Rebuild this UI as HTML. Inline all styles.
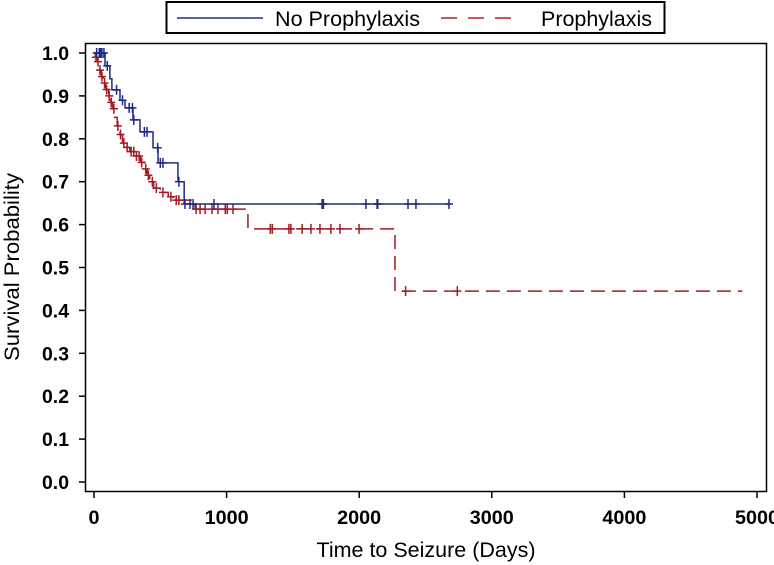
<!DOCTYPE html>
<html><head><meta charset="utf-8"><style>
html,body{margin:0;padding:0;background:#fff;}
svg{display:block;font-family:"Liberation Sans",Arial,sans-serif;}
</style></head><body>
<svg id="chart" width="774" height="565" viewBox="0 0 774 565" xmlns="http://www.w3.org/2000/svg">
<g>
<rect x="166.5" y="2" width="498" height="31" fill="#fff" stroke="#000" stroke-width="2"/>
<line x1="177" y1="18" x2="263" y2="18" stroke="#1f2a85" stroke-width="1.5"/>
<text x="275" y="26" font-size="21" textLength="145" lengthAdjust="spacingAndGlyphs">No Prophylaxis</text>
<line x1="441" y1="18" x2="511" y2="18" stroke="#b02025" stroke-width="1.5" stroke-dasharray="16 11"/>
<text x="541" y="26" font-size="21" textLength="111" lengthAdjust="spacingAndGlyphs">Prophylaxis</text>
</g>
<rect x="85.5" y="43.5" width="681" height="448" fill="none" stroke="#000" stroke-width="1.5"/>
<g id="yaxis"></g>
<g id="xaxis"></g>
<text transform="translate(19,267) rotate(-90)" text-anchor="middle" font-size="21" textLength="188" lengthAdjust="spacingAndGlyphs">Survival Probability</text>
<text x="426" y="557" text-anchor="middle" font-size="21" textLength="219" lengthAdjust="spacingAndGlyphs">Time to Seizure (Days)</text>
<g id="series"></g>
</svg>
<script>
const yTicks=[0,0.1,0.2,0.3,0.4,0.5,0.6,0.7,0.8,0.9,1.0];
const yTickLabels=["0.0","0.1","0.2","0.3","0.4","0.5","0.6","0.7","0.8","0.9","1.0"];
const xTicks=[0,1000,2000,3000,4000,5000];
const xTickLabels=["0","1000","2000","3000","4000","5000"];
// No Prophylaxis step function: event times and survival after each
const blueTimes=[0,83,120,135,196,234,294,347,445,483,633,680];
const blueSurv=[1.0,0.97,0.94,0.914,0.89,0.872,0.844,0.816,0.779,0.744,0.70,0.648];
const blueEnd=2690;
const blueCensor=[20,40,50,60,75,100,170,215,265,290,300,380,400,480,500,520,640,686,724,747,905,1720,1730,2051,2135,2140,2368,2428,2677];
// Prophylaxis step function
const redTimes=[0,10,25,40,55,70,85,110,125,140,155,175,195,215,235,270,310,350,380,400,420,450,500,560,596,762,1161,2270];
const redSurv=[1.0,0.99,0.98,0.96,0.945,0.93,0.915,0.90,0.885,0.87,0.85,0.83,0.81,0.79,0.78,0.77,0.76,0.745,0.73,0.715,0.70,0.685,0.675,0.665,0.657,0.636,0.59,0.445];
const redEnd=4890;
const redCensor=[15,30,45,60,80,95,115,130,150,180,200,225,250,280,300,320,340,360,390,410,440,470,520,580,620,640,770,800,838,890,935,990,1005,1048,1330,1345,1470,1485,1570,1636,1704,1787,1855,1999,2350,2740];

const X=v=>94+v*(757-94)/5000;
const Y=v=>482-v*(482-53);
const NS="http://www.w3.org/2000/svg";
function mk(tag,attrs,parent){const e=document.createElementNS(NS,tag);for(const k in attrs)e.setAttribute(k,attrs[k]);parent.appendChild(e);return e;}
const ya=document.getElementById('yaxis'),xa=document.getElementById('xaxis'),sr=document.getElementById('series');
yTicks.forEach((t,i)=>{
  const l=mk('line',{x1:79,x2:85,y1:Y(t),y2:Y(t),stroke:'#000','stroke-width':1.5},ya);
  
  
  const tx=mk('text',{x:69,y:Y(t)+7,'text-anchor':'end','font-size':19,'font-weight':'bold',textLength:27,lengthAdjust:'spacingAndGlyphs'},ya);
  tx.textContent=yTickLabels[i];
  
  
});
xTicks.forEach((t,i)=>{
  const l=mk('line',{x1:X(t),x2:X(t),y1:492,y2:498,stroke:'#000','stroke-width':1.5},xa);
  
  
  const w=xTickLabels[i].length*11;
  const tx=mk('text',{x:X(t),y:524,'text-anchor':'middle','font-size':19,'font-weight':'bold',textLength:w,lengthAdjust:'spacingAndGlyphs'},xa);
  tx.textContent=xTickLabels[i];
  
  
});
function stepPath(times,surv,end){
  let d='M'+X(times[0])+','+Y(surv[0]);
  for(let i=1;i<times.length;i++){d+=' H'+X(times[i])+' V'+Y(surv[i]);}
  d+=' H'+X(end);return d;
}
function survAt(times,surv,t){let s=surv[0];for(let i=0;i<times.length;i++){if(times[i]<=t)s=surv[i];}return s;}
function draw(times,surv,end,cens,color,dash,name){
  const p=mk('path',{d:stepPath(times,surv,end),fill:'none',stroke:color,'stroke-width':1.5},sr);
  if(dash)p.setAttribute('stroke-dasharray',dash);
  
  
  cens.forEach(t=>{
    const cx=X(t),cy=Y(survAt(times,surv,t));
    const c=mk('path',{d:'M'+cx+','+(cy-5)+' V'+(cy+5)+' M'+(cx-4)+','+cy+' H'+(cx+4),stroke:color,'stroke-width':1.5,fill:'none'},sr);
    
    
  });
}
draw(redTimes,redSurv,redEnd,redCensor,'#a01c22','14 7','prophylaxis');
draw(blueTimes,blueSurv,blueEnd,blueCensor,'#1f2a85',null,'no-prophylaxis');
</script>
</body></html>
